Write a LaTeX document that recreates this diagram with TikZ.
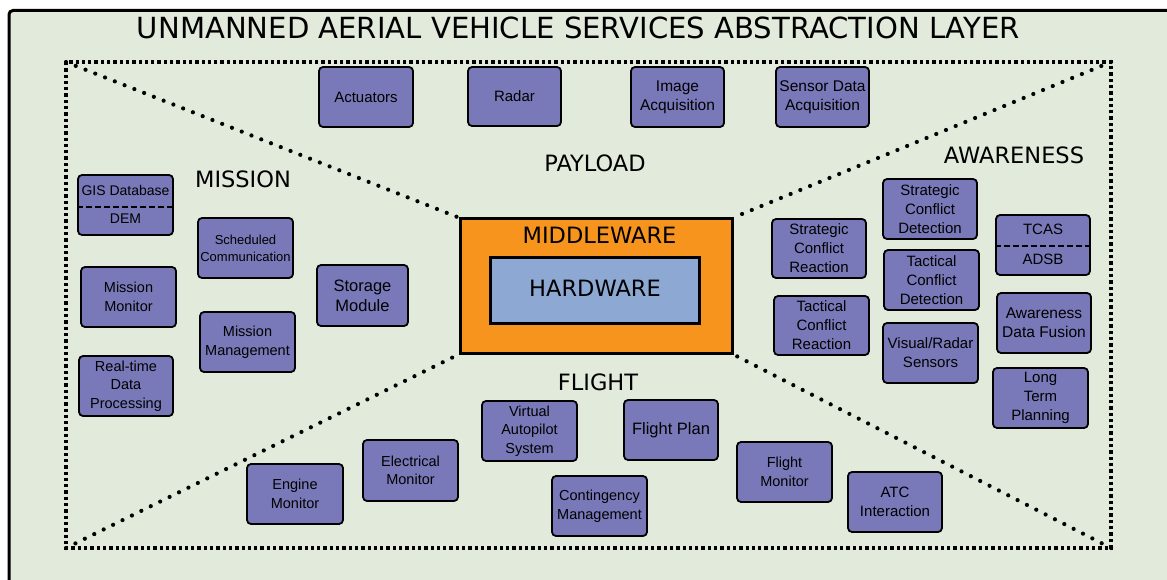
\documentclass[tikz,border=0pt]{standalone}
\usepackage{fontspec}
\setmainfont{Liberation Sans}
\newfontfamily\labelfont{DejaVu Sans}
\definecolor{panel}{RGB}{226,234,219}
\definecolor{boxfill}{RGB}{121,121,185}
\definecolor{mwfill}{RGB}{247,148,30}
\definecolor{hwfill}{RGB}{142,168,212}
\tikzset{
  svc/.style={draw=black, line width=1.8, rounded corners=4, fill=boxfill,
    align=center, inner sep=0pt, minimum width=94, minimum height=60,
    font=\fontsize{14.5}{18.5}\selectfont},
  bigsvc/.style={svc, font=\fontsize{16.5}{20}\selectfont},
  smallsvc/.style={svc, font=\fontsize{13}{17}\selectfont},
  plain/.style={inner sep=0pt, font=\fontsize{14.5}{18.5}\selectfont},
  area/.style={anchor=base, inner sep=0pt, font=\labelfont\fontsize{22.5}{24}\selectfont},
  zone/.style={line width=3.4, dash pattern=on 3.3pt off 3pt},
  diag/.style={line width=4.2, line cap=round, dash pattern=on 0pt off 10.5pt},
  split/.style={line width=1.8, dash pattern=on 6pt off 3pt},
}
\begin{document}
\begin{tikzpicture}[x=1pt, y=-1pt]
\useasboundingbox (0,0) rectangle (1167,580);
\clip (0,0) rectangle (1167,580);

% outer panel
\draw[line width=3, rounded corners=4, fill=panel] (9,10.5) rectangle (1210,630);
\node[anchor=base, inner sep=0pt, font=\labelfont\fontsize{29.1}{30}\selectfont] (title) at (578.5,39)
  {UNMANNED AERIAL VEHICLE SERVICES ABSTRACTION LAYER};

% core
\node[draw=black, line width=3, fill=mwfill, minimum width=272, minimum height=134, inner sep=0pt] (mw) at (596,286) {};
\node[area] (mwlabel) at (599.5,243.3) {MIDDLEWARE};
\node[draw=black, line width=3, fill=hwfill, minimum width=209, minimum height=66, inner sep=0pt] (hw) at (594.5,290) {};
\node[area] (hwlabel) at (595,296.7) {HARDWARE};

% dotted zone frame and diagonals
\coordinate (tl) at (66,62);
\coordinate (tr) at (1111,62);
\coordinate (bl) at (66,548);
\coordinate (br) at (1111,548);
\draw[zone] (tl) rectangle (br);
\draw[diag] (tl) -- (mw.north west);
\draw[diag] (tr) -- (mw.north east);
\draw[diag] (bl) -- (mw.south west);
\draw[diag] (br) -- (mw.south east);

% zone labels
\node[area] (lmission) at (243,188) {MISSION};
\node[area] (lpayload) at (595,172) {PAYLOAD};
\node[area] (laware) at (1014,164) {AWARENESS};
\node[area] (lflight) at (598,390) {FLIGHT};

% payload
\node[svc, font=\fontsize{15}{18.5}\selectfont] (act) at (366,97) {Actuators};
\node[svc, font=\fontsize{15}{18.5}\selectfont, minimum width=93, minimum height=59] (radar) at (514.5,96.5) {Radar};
\node[svc, font=\fontsize{15.5}{19}\selectfont, minimum width=93] (img) at (677.5,97) {Image\\Acquisition};
\node[svc, font=\fontsize{15.5}{19}\selectfont, minimum width=93] (sda) at (822.5,97) {Sensor Data\\Acquisition};

% mission
\node[svc, minimum width=95] (gis) at (125.5,205) {};
\draw[split] ([yshift=-2]gis.west) -- ([yshift=-2]gis.east);
\node[plain, font=\fontsize{14}{17}\selectfont] (gisdb) at (125.5,190) {GIS Database};
\node[plain, font=\fontsize{14}{17}\selectfont] (dem) at (125.5,219) {DEM};
\node[smallsvc, minimum width=95] (sched) at (245.5,248) {Scheduled\\Communication};
\node[svc, minimum width=95] (mmon) at (128.5,297) {Mission\\Monitor};
\node[svc, minimum width=95] (mman) at (247.5,342) {Mission\\Management};
\node[svc] (rtdp) at (126,386) {Real-time\\Data\\Processing};
\node[bigsvc, minimum width=91, minimum height=61] (store) at (362.5,295.5) {Storage\\Module};

% awareness
\node[svc, font=\fontsize{15}{19}\selectfont, minimum height=59] (scr) at (819,248.5) {Strategic\\Conflict\\Reaction};
\node[svc, font=\fontsize{15}{19}\selectfont, minimum width=95, minimum height=59] (tcr) at (821.5,325.5) {Tactical\\Conflict\\Reaction};
\node[svc, font=\fontsize{15}{19}\selectfont] (scd) at (930,209) {Strategic\\Conflict\\Detection};
\node[svc, font=\fontsize{15}{19}\selectfont, minimum width=95] (tcd) at (931.5,280) {Tactical\\Conflict\\Detection};
\node[svc, font=\fontsize{15}{19}\selectfont, minimum width=95] (vrs) at (930.5,353) {Visual/Radar\\Sensors};
\node[svc] (tcas) at (1043,245) {};
\draw[split] ([yshift=-1]tcas.west) -- ([yshift=-1]tcas.east);
\node[plain, font=\fontsize{15}{18}\selectfont] (tcasl) at (1043,229) {TCAS};
\node[plain, font=\fontsize{15}{18}\selectfont] (adsb) at (1043,259) {ADSB};
\node[svc, font=\fontsize{15.5}{19}\selectfont] (adf) at (1044,323) {Awareness\\Data Fusion};
\node[svc, font=\fontsize{15}{19}\selectfont, minimum width=95] (ltp) at (1040.5,398) {Long\\Term\\Planning};

% flight
\node[svc, minimum width=96] (eng) at (295,494) {Engine\\Monitor};
\node[svc, minimum width=95, minimum height=61] (elec) at (410.5,470.5) {Electrical\\Monitor};
\node[svc, minimum width=95] (vap) at (529.5,431) {Virtual\\Autopilot\\System};
\node[svc, minimum width=95] (cont) at (599.5,506) {Contingency\\Management};
\node[bigsvc] (fplan) at (671,430) {Flight Plan};
\node[svc, minimum width=95] (fmon) at (784.5,472) {Flight\\Monitor};
\node[svc, font=\fontsize{15}{19}\selectfont] (atc) at (895,502) {ATC\\Interaction};
\end{tikzpicture}
\end{document}
